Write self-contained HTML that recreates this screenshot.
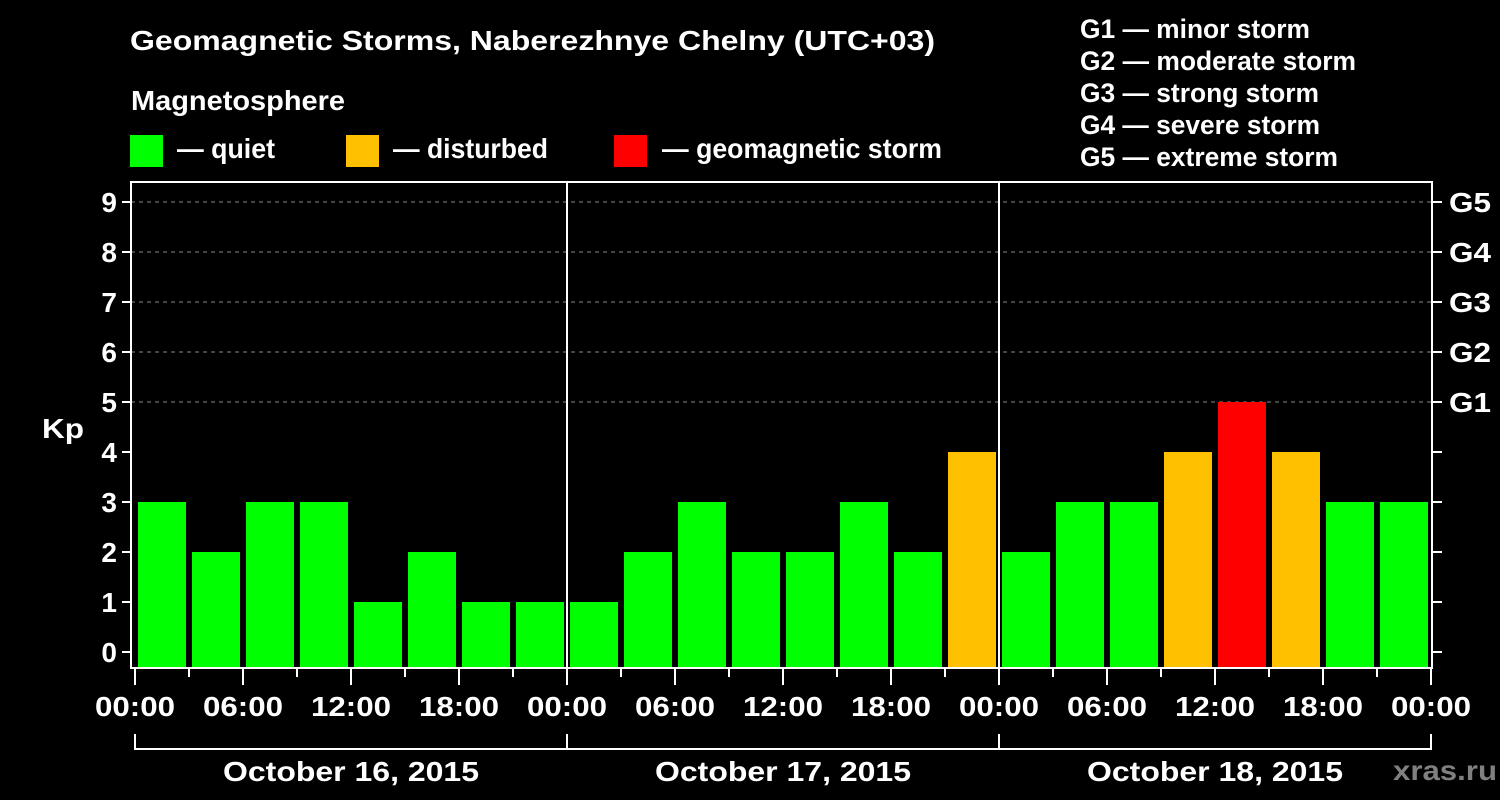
<!DOCTYPE html>
<html><head><meta charset="utf-8"><style>
html,body{margin:0;padding:0;background:#000;}
svg{display:block;font-family:"Liberation Sans",Arial,sans-serif;font-weight:bold;}
</style></head><body>
<svg id="chart" width="1500" height="800" viewBox="0 0 1500 800">
<rect width="1500" height="800" fill="#000"/>
<text x="130" y="50" fill="#fff" font-size="28" textLength="805" lengthAdjust="spacingAndGlyphs">Geomagnetic Storms, Naberezhnye Chelny (UTC+03)</text>
<text x="131" y="110" fill="#fff" font-size="28" textLength="214" lengthAdjust="spacingAndGlyphs">Magnetosphere</text>
<g><rect x="130" y="135" width="33" height="32" fill="#00ff00"/><text x="177" y="158" fill="#fff" font-size="28" textLength="98" lengthAdjust="spacingAndGlyphs">— quiet</text></g>
<g><rect x="346" y="135" width="33" height="32" fill="#ffc000"/><text x="393" y="158" fill="#fff" font-size="28" textLength="155" lengthAdjust="spacingAndGlyphs">— disturbed</text></g>
<g><rect x="614" y="135" width="33" height="32" fill="#ff0000"/><text x="662" y="158" fill="#fff" font-size="28" textLength="280" lengthAdjust="spacingAndGlyphs">— geomagnetic storm</text></g>
<g fill="#fff" font-size="27" lengthAdjust="spacingAndGlyphs">
<text x="1080" y="38" textLength="230" lengthAdjust="spacingAndGlyphs">G1 — minor storm</text>
<text x="1080" y="70" textLength="276" lengthAdjust="spacingAndGlyphs">G2 — moderate storm</text>
<text x="1080" y="102" textLength="239" lengthAdjust="spacingAndGlyphs">G3 — strong storm</text>
<text x="1080" y="134" textLength="240" lengthAdjust="spacingAndGlyphs">G4 — severe storm</text>
<text x="1080" y="166" textLength="258" lengthAdjust="spacingAndGlyphs">G5 — extreme storm</text>
</g>
<text x="42" y="438" fill="#fff" font-size="28" textLength="42" lengthAdjust="spacingAndGlyphs">Kp</text>
<text x="1393" y="780" fill="#808080" font-size="28" textLength="104" lengthAdjust="spacingAndGlyphs">xras.ru</text>
<g id="grid"></g><g id="bars"></g><g id="axes"></g>
</svg>
<script>
const kpValues = [3,2,3,3,1,2,1,1, 1,2,3,2,2,3,2,4, 2,3,3,4,5,4,3,3];
const dayLabels = ["October 16, 2015","October 17, 2015","October 18, 2015"];
const hourLabels = ["00:00","06:00","12:00","18:00"];
const yTicks = [0,1,2,3,4,5,6,7,8,9];
const gLabels = ["G1","G2","G3","G4","G5"];

(function(){
const NS="http://www.w3.org/2000/svg";
const X0=135, DAYW=432, SLOT=54, pL=131, pR=1432, pT=182, pB=668;
const ys=v=>652-50*v;
const xs=h=>X0+h/24*DAYW;
function mk(tag,attrs,parent){const e=document.createElementNS(NS,tag);for(const k in attrs)e.setAttribute(k,attrs[k]);parent.appendChild(e);return e;}
const grid=document.getElementById('grid'),bars=document.getElementById('bars'),axes=document.getElementById('axes');
[5,6,7,8,9].forEach(v=>{
 const l=mk('line',{x1:pL,x2:pR,y1:ys(v),y2:ys(v),stroke:'#888','stroke-dasharray':'4,4','stroke-width':1},grid);
 
 
});
kpValues.forEach((v,i)=>{
 const c=v>=5?'#ff0000':(v>=4?'#ffc000':'#00ff00');
 const b=mk('rect',{x:xs(i*3)+3,y:ys(v),width:SLOT-6,height:pB-ys(v),fill:c},bars);
 
 
});
const fr=mk('rect',{x:pL,y:pT,width:pR-pL,height:pB-pT,fill:'none',stroke:'#fff','stroke-width':2},axes);


for(let d=1;d<dayLabels.length;d++){
 const l=mk('line',{x1:xs(24*d),x2:xs(24*d),y1:pT,y2:pB,stroke:'#fff','stroke-width':2},axes);
 
 
}
yTicks.forEach(v=>{
 mk('line',{x1:pL-9,x2:pL,y1:ys(v),y2:ys(v),stroke:'#fff','stroke-width':2},axes);
 mk('line',{x1:pR,x2:pR+10,y1:ys(v),y2:ys(v),stroke:'#fff','stroke-width':2},axes);
 const t=mk('text',{x:pL-14,y:ys(v)+10,fill:'#fff','font-size':28,'text-anchor':'end'},axes);
 t.textContent=v;
 
 
});
gLabels.forEach((g,i)=>{
 const t=mk('text',{x:pR+17,y:ys(5+i)+10,fill:'#fff','font-size':28,textLength:42,lengthAdjust:'spacingAndGlyphs'},axes);
 t.textContent=g;
 
 
});
for(let h=0;h<=24*dayLabels.length;h+=3){
 const major=h%6===0;
 mk('line',{x1:xs(h),x2:xs(h),y1:pB,y2:pB+(major?17:9),stroke:'#fff','stroke-width':2},axes);
 if(major){
  const t=mk('text',{x:xs(h)-40,y:716,fill:'#fff','font-size':28,textLength:80,lengthAdjust:'spacingAndGlyphs'},axes);
  t.textContent=hourLabels[(h%24)/6];
  
  
 }
}
dayLabels.forEach((d,i)=>{
 const a=xs(24*i),b=xs(24*(i+1));
 mk('path',{d:`M${a},734V749H${b}V734`,stroke:'#fff','stroke-width':2,fill:'none'},axes);
 const t=mk('text',{x:(a+b)/2-128,y:781,fill:'#fff','font-size':28,textLength:256,lengthAdjust:'spacingAndGlyphs'},axes);
 t.textContent=d;
 
 
});
})();
</script>
</body></html>
